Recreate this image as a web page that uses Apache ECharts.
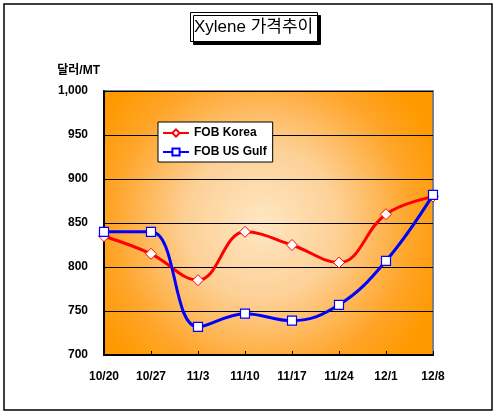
<!DOCTYPE html>
<html>
<head>
<meta charset="utf-8">
<script src="https://cdn.jsdelivr.net/npm/echarts@6/dist/echarts.min.js"></script>
<style>
  html, body { margin: 0; padding: 0; background: #fff; }
  #chart { width: 498px; height: 418px; }
</style>
</head>
<body>
<div id="chart"></div>
<script>
// 날짜 (주간)
const weeks = ['10/20', '10/27', '11/3', '11/10', '11/17', '11/24', '12/1', '12/8'];
const fobKorea = [835, 815, 785, 840, 825, 805, 860, 880];
const fobUsGulf = [840, 840, 732, 747, 739, 757, 807, 882];
const yTicks = [700, 750, 800, 850, 900, 950, 1000];

const font = "'Liberation Sans', Arial, 'Noto Sans CJK KR', sans-serif";

const chart = echarts.init(document.getElementById('chart'), null, { renderer: 'canvas' });

const option = {
    animation: false,
    textStyle: { fontFamily: font },
    graphic: [
        {
            type: 'rect',
            shape: { x: 4, y: 4, width: 488, height: 406 },
            style: { fill: 'none', stroke: '#000', lineWidth: 1.5 },
            silent: true
        }
    ],
    title: {
        text: 'Xylene 가격추이',
        left: 190,
        top: 12,
        padding: [7, 4, 6, 4],
        backgroundColor: '#fff',
        borderColor: '#000',
        borderWidth: 1,
        shadowColor: '#000',
        shadowBlur: 0,
        shadowOffsetX: 3,
        shadowOffsetY: 3,
        textStyle: { fontFamily: font, fontSize: 17, fontWeight: 'normal', color: '#000' }
    },
    legend: {
        orient: 'vertical',
        left: 158,
        top: 122,
        padding: [5, 6, 4, 4],
        itemGap: 7,
        itemWidth: 26,
        itemHeight: 9,
        backgroundColor: '#fff',
        borderColor: '#000',
        borderWidth: 1,
        textStyle: { fontFamily: font, fontSize: 12, fontWeight: 'bold', color: '#000' },
        data: ['FOB Korea', 'FOB US Gulf']
    },
    grid: {
        left: 104,
        right: 65,
        top: 91,
        bottom: 63,
        show: true,
        borderColor: '#808080',
        borderWidth: 2,
        backgroundColor: new echarts.graphic.RadialGradient(0.48, 0.5, 0.72, [
            { offset: 0, color: '#FEE7C3' },
            { offset: 0.4, color: '#FDD096' },
            { offset: 0.78, color: '#FFA52A' },
            { offset: 1, color: '#FF9900' }
        ])
    },
    xAxis: {
        type: 'category',
        data: weeks,
        boundaryGap: false,
        axisLine: { lineStyle: { color: '#000', width: 2 } },
        axisTick: { inside: true, length: 4, lineStyle: { color: '#000' } },
        axisLabel: { color: '#000', fontSize: 12, fontWeight: 'bold', margin: 16, fontFamily: font }
    },
    yAxis: {
        type: 'value',
        min: yTicks[0],
        max: yTicks[yTicks.length - 1],
        interval: 50,
        name: '달러/MT',
        nameLocation: 'end',
        nameGap: 14,
        nameTextStyle: { color: '#000', fontSize: 12, fontWeight: 'bold', align: 'right', padding: [0, 4, 0, 0], fontFamily: font },
        axisLine: { show: true, lineStyle: { color: '#000', width: 2 } },
        axisTick: { show: false },
        splitLine: { lineStyle: { color: '#000', width: 1 } },
        axisLabel: {
            color: '#000', fontSize: 12, fontWeight: 'bold', margin: 16, fontFamily: font,
            formatter: v => v.toLocaleString('en-US')
        }
    },
    series: [
        {
            name: 'FOB Korea',
            type: 'line',
            data: fobKorea,
            smooth: 0.4,
            symbol: 'diamond',
            symbolSize: 11,
            lineStyle: { color: '#FF0000', width: 3 },
            itemStyle: { color: '#fff', borderColor: '#FF0000', borderWidth: 1 },
            z: 3
        },
        {
            name: 'FOB US Gulf',
            type: 'line',
            data: fobUsGulf,
            smooth: 0.4,
            symbol: 'rect',
            symbolSize: 9,
            lineStyle: { color: '#0000FF', width: 3 },
            itemStyle: { color: '#fff', borderColor: '#0000FF', borderWidth: 1.2 },
            z: 4
        }
    ]
};

chart.setOption(option);
</script>
</body>
</html>
